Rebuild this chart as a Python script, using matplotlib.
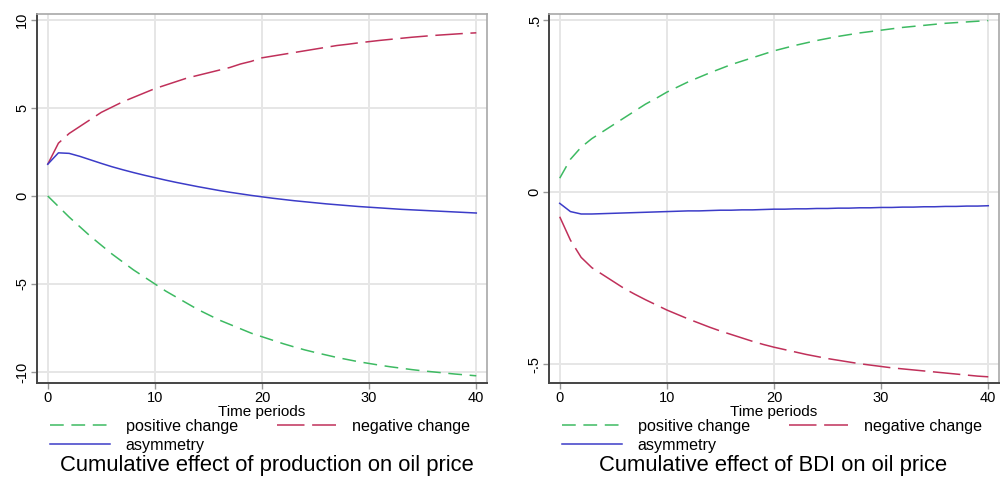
import numpy as np
import matplotlib.pyplot as plt

plt.rcParams['font.family'] = ['Liberation Sans', 'DejaVu Sans']

periods = np.arange(0, 41)

# production -> oil price
prod_pos = [0.0, -0.6, -1.2, -1.75, -2.3, -2.8, -3.3, -3.75, -4.2, -4.6, -5.0,
            -5.4, -5.75, -6.1, -6.45, -6.75, -7.05, -7.3, -7.55, -7.8, -8.0,
            -8.2, -8.4, -8.58, -8.75, -8.9, -9.04, -9.18, -9.3, -9.42, -9.52,
            -9.62, -9.71, -9.79, -9.87, -9.94, -10.0, -10.06, -10.12, -10.17, -10.22]
prod_neg = [1.8, 3.0, 3.55, 3.95, 4.35, 4.75, 5.05, 5.35, 5.6, 5.85, 6.1,
            6.3, 6.5, 6.7, 6.85, 7.0, 7.15, 7.3, 7.5, 7.65, 7.85,
            7.95, 8.05, 8.15, 8.25, 8.35, 8.45, 8.55, 8.62, 8.7, 8.77,
            8.84, 8.9, 8.96, 9.02, 9.07, 9.12, 9.16, 9.2, 9.24, 9.27]
prod_asym = [1.8, 2.45, 2.42, 2.25, 2.05, 1.85, 1.66, 1.49, 1.33, 1.18, 1.04,
             0.9, 0.77, 0.65, 0.53, 0.42, 0.31, 0.21, 0.12, 0.03, -0.05,
             -0.13, -0.2, -0.27, -0.33, -0.39, -0.45, -0.5, -0.55, -0.6, -0.64,
             -0.68, -0.72, -0.76, -0.79, -0.82, -0.85, -0.88, -0.91, -0.94, -0.97]

# BDI -> oil price
bdi_pos = [0.04, 0.095, 0.13, 0.155, 0.175, 0.195, 0.215, 0.235, 0.255, 0.272, 0.29,
           0.305, 0.32, 0.333, 0.346, 0.358, 0.37, 0.38, 0.39, 0.4, 0.41,
           0.418, 0.426, 0.433, 0.44, 0.446, 0.452, 0.457, 0.462, 0.466, 0.47,
           0.474, 0.478, 0.481, 0.484, 0.487, 0.49, 0.492, 0.494, 0.496, 0.498]
bdi_neg = [-0.072, -0.14, -0.19, -0.22, -0.24, -0.26, -0.28, -0.297, -0.313, -0.328, -0.343,
           -0.356, -0.369, -0.381, -0.393, -0.404, -0.414, -0.424, -0.434, -0.443, -0.451,
           -0.458, -0.465, -0.472, -0.478, -0.484, -0.489, -0.494, -0.499, -0.503, -0.507,
           -0.511, -0.514, -0.517, -0.52, -0.523, -0.526, -0.529, -0.532, -0.535, -0.537]
bdi_asym = [-0.033, -0.057, -0.064, -0.064, -0.063, -0.062, -0.061, -0.06, -0.059, -0.058, -0.057,
            -0.056, -0.055, -0.055, -0.054, -0.053, -0.053, -0.052, -0.052, -0.051, -0.05,
            -0.05, -0.049, -0.049, -0.048, -0.048, -0.047, -0.047, -0.046, -0.046, -0.045,
            -0.045, -0.044, -0.044, -0.043, -0.043, -0.042, -0.042, -0.041, -0.041, -0.04]

x_ticks = [0, 10, 20, 30, 40]
prod_yticks = [-10, -5, 0, 5, 10]
prod_ylabels = ['-10', '-5', '0', '5', '10']
bdi_yticks = [-0.5, 0, 0.5]
bdi_ylabels = ['-.5', '0', '.5']

labels = ['positive change', 'negative change', 'asymmetry']
titles = ['Cumulative effect of production on oil price',
          'Cumulative effect of BDI on oil price']

c_pos = '#3dba62'
c_neg = '#c0305a'
c_asym = '#3c3cc8'

W, H = 1004, 478
fig = plt.figure(figsize=(W / 100, H / 100), dpi=100)


def panel(x0, pos, neg, asym, yticks, ylabels, ylim, title, title_x):
    ax = fig.add_axes([x0 / W, 1 - 383 / H, 450 / W, 369 / H])
    l1, = ax.plot(periods, pos, color=c_pos, lw=1.1, dashes=(9, 5))
    l2, = ax.plot(periods, neg, color=c_neg, lw=1.1, dashes=(18, 5))
    l3, = ax.plot(periods, asym, color=c_asym, lw=1.1)
    ax.set_xlim(-1, 41)
    ax.set_ylim(*ylim)
    ax.set_xticks(x_ticks)
    ax.set_yticks(yticks)
    ax.set_yticklabels(ylabels, rotation=90, va='center')
    ax.grid(True, color='#e6e6e6', lw=1.4)
    ax.set_axisbelow(True)
    for s in ['left', 'bottom']:
        ax.spines[s].set_color('#444444')
        ax.spines[s].set_linewidth(1.4)
    for s in ['top', 'right']:
        ax.spines[s].set_color('#a8a8a8')
        ax.spines[s].set_linewidth(1.2)
    ax.tick_params(length=4, width=1, color='#999999', labelsize=10.5, pad=1.5)
    ax.set_xlabel('Time periods', fontsize=11, labelpad=0)

    fig.legend([l1, l3, l2], [labels[0], labels[2], labels[1]], ncol=2,
               loc='upper left', bbox_to_anchor=((x0 + 13) / W, 1 - 419 / H),
               bbox_transform=fig.transFigure, frameon=False, fontsize=11.6,
               handlelength=3.7, handletextpad=1.0, columnspacing=2.4,
               labelspacing=0.22, borderpad=0, borderaxespad=0)
    fig.text(title_x / W, 1 - 466 / H, title, ha='center', va='center', fontsize=15.8)
    return ax


panel(37, prod_pos, prod_neg, prod_asym, prod_yticks, prod_ylabels,
      (-10.63, 10.34), titles[0], 267)
panel(549, bdi_pos, bdi_neg, bdi_asym, bdi_yticks, bdi_ylabels,
      (-0.555, 0.517), titles[1], 773)

fig.savefig('out.png', dpi=100)
